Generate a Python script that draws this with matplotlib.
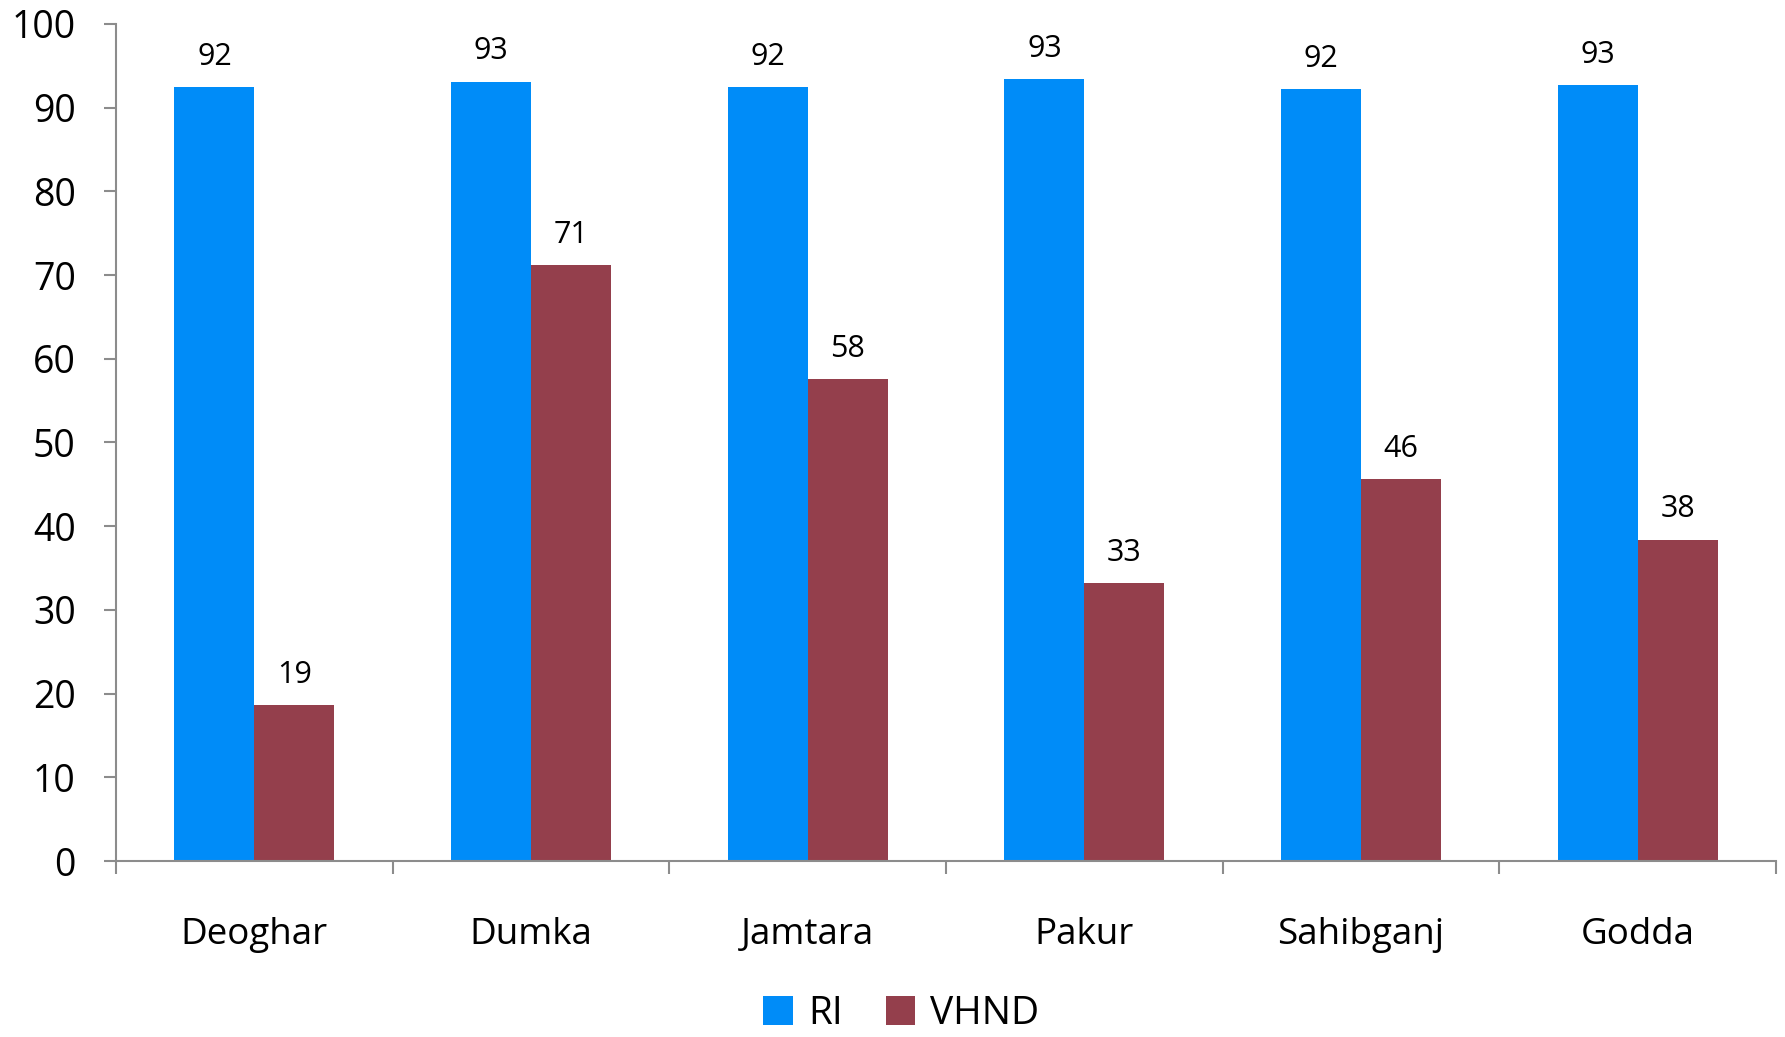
import matplotlib.pyplot as plt
import numpy as np

districts = ['Deoghar', 'Dumka', 'Jamtara', 'Pakur', 'Sahibganj', 'Godda']
ri = [92.4, 93.1, 92.4, 93.4, 92.2, 92.7]
vhnd = [18.6, 71.2, 57.6, 33.2, 45.6, 38.4]
y_ticks = [0, 10, 20, 30, 40, 50, 60, 70, 80, 90, 100]

RI_COLOR = '#008CF8'
VHND_COLOR = '#943F4C'
AXIS_COLOR = '#8C8C8C'

plt.rcParams['font.family'] = ['Open Sans', 'DejaVu Sans']

fig = plt.figure(figsize=(17.85, 10.37), dpi=100)
ax = fig.add_axes([0.065, 0.1697, 0.93, 0.8073])

x = np.arange(len(districts))
width = 0.289

bars_ri = ax.bar(x - width / 2, ri, width, color=RI_COLOR, label='RI')
bars_vhnd = ax.bar(x + width / 2, vhnd, width, color=VHND_COLOR, label='VHND')

for bars in (bars_ri, bars_vhnd):
    for b in bars:
        h = b.get_height()
        ax.annotate(f'{h:.0f}', (b.get_x() + b.get_width() / 2, h),
                    xytext=(0, 11), textcoords='offset points',
                    ha='center', va='bottom', fontsize=22)

ax.set_xlim(-0.5, len(districts) - 0.5)
ax.set_ylim(0, 100)
ax.set_yticks(y_ticks)
ax.tick_params(axis='y', labelsize=27, length=9, width=1.5,
               color=AXIS_COLOR, pad=20)

# boundaries get the tick marks, centres get the names
ax.set_xticks(np.arange(len(districts) + 1) - 0.5)
ax.set_xticklabels([])
ax.set_xticks(x, minor=True)
ax.set_xticklabels(districts, minor=True)
ax.tick_params(axis='x', which='major', length=9, width=1.5, color=AXIS_COLOR)
ax.tick_params(axis='x', which='minor', length=0, labelsize=26.5, pad=40)

for side in ('top', 'right'):
    ax.spines[side].set_visible(False)
for side in ('left', 'bottom'):
    ax.spines[side].set_color(AXIS_COLOR)
    ax.spines[side].set_linewidth(1.5)

fig.legend(loc='lower center', bbox_to_anchor=(0.505, -0.03), ncol=2,
           frameon=False, fontsize=28, handlelength=0.75, handleheight=0.75,
           handletextpad=0.4, columnspacing=1.1)

fig.savefig('out.png', dpi=100)
